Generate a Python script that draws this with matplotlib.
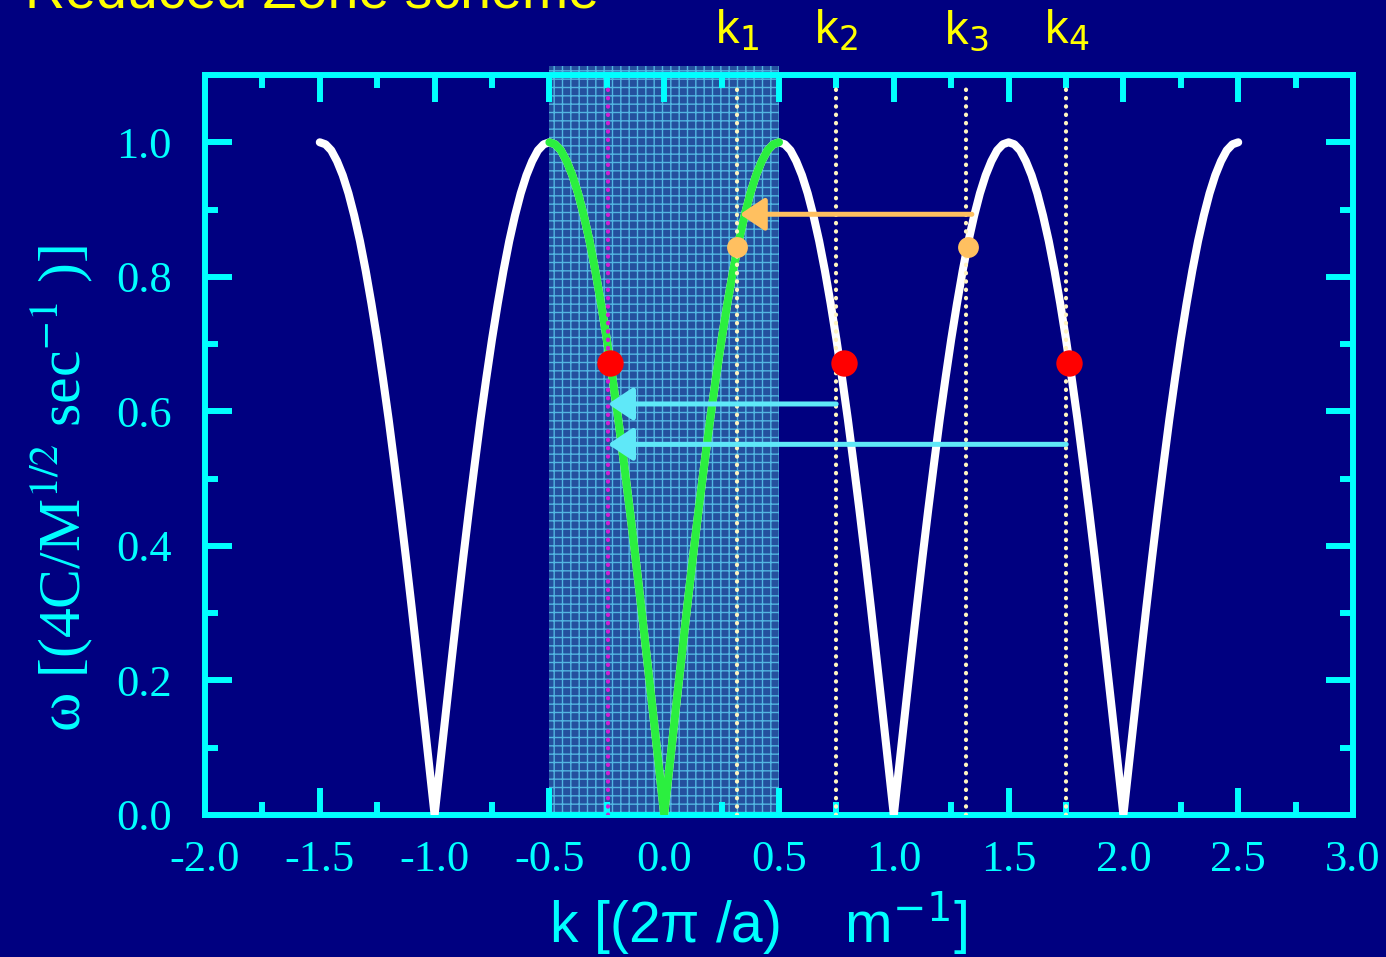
import matplotlib
matplotlib.use("Agg")
import matplotlib.pyplot as plt
import matplotlib.transforms as mtransforms
from matplotlib.patches import Rectangle
from matplotlib.ticker import MultipleLocator, FormatStrFormatter
import numpy as np

plt.rcParams['axes.unicode_minus'] = False

# Dispersion curve, every 0.025 in k (from -1.5 to 2.5)
k_curve = np.linspace(-1.5, 2.5, 161)
w_curve = [
    1.000, 0.997, 0.988, 0.972, 0.951, 0.924, 0.891, 0.853, 0.809, 0.760,
    0.707, 0.649, 0.588, 0.522, 0.454, 0.383, 0.309, 0.233, 0.156, 0.078,
    0.000, 0.078, 0.156, 0.233, 0.309, 0.383, 0.454, 0.522, 0.588, 0.649,
    0.707, 0.760, 0.809, 0.853, 0.891, 0.924, 0.951, 0.972, 0.988, 0.997,
    1.000, 0.997, 0.988, 0.972, 0.951, 0.924, 0.891, 0.853, 0.809, 0.760,
    0.707, 0.649, 0.588, 0.522, 0.454, 0.383, 0.309, 0.233, 0.156, 0.078,
    0.000, 0.078, 0.156, 0.233, 0.309, 0.383, 0.454, 0.522, 0.588, 0.649,
    0.707, 0.760, 0.809, 0.853, 0.891, 0.924, 0.951, 0.972, 0.988, 0.997,
    1.000, 0.997, 0.988, 0.972, 0.951, 0.924, 0.891, 0.853, 0.809, 0.760,
    0.707, 0.649, 0.588, 0.522, 0.454, 0.383, 0.309, 0.233, 0.156, 0.078,
    0.000, 0.078, 0.156, 0.233, 0.309, 0.383, 0.454, 0.522, 0.588, 0.649,
    0.707, 0.760, 0.809, 0.853, 0.891, 0.924, 0.951, 0.972, 0.988, 0.997,
    1.000, 0.997, 0.988, 0.972, 0.951, 0.924, 0.891, 0.853, 0.809, 0.760,
    0.707, 0.649, 0.588, 0.522, 0.454, 0.383, 0.309, 0.233, 0.156, 0.078,
    0.000, 0.078, 0.156, 0.233, 0.309, 0.383, 0.454, 0.522, 0.588, 0.649,
    0.707, 0.760, 0.809, 0.853, 0.891, 0.924, 0.951, 0.972, 0.988, 0.997,
    1.000]
w_curve = np.array(w_curve)

# first Brillouin zone
zone_lo, zone_hi = -0.5, 0.5

# marked wave vectors
k_lines = [0.318, 0.749, 1.315, 1.751]
k_names = ["k$_1$", "k$_2$", "k$_3$", "k$_4$"]
k_folded = -0.244

# points on the curve
red_k = [-0.235, 0.784, 1.764]
red_w = [0.672, 0.672, 0.672]
orange_k = [0.318, 1.324]
orange_w = [0.844, 0.844]

# arrows (from k, to k, omega)
cyan_arrows = [(0.749, -0.244, 0.611), (1.751, -0.244, 0.551)]
orange_arrow = (1.34, 0.33, 0.893)

navy = "#000080"
cyan = "#00ffff"

fig = plt.figure(figsize=(13.86, 9.57), dpi=100, facecolor=navy)
ax = fig.add_axes([0.1479, 0.1484, 0.8283, 0.7732])
ax.set_facecolor(navy)
ax.set_xlim(-2, 3)
ax.set_ylim(0, 1.1)

# shaded zone
ax.add_patch(Rectangle((zone_lo, 0), zone_hi - zone_lo, 1.114, facecolor="#24509e",
                       edgecolor="#52b6e2", hatch="++", lw=0, clip_on=False, zorder=1))

# curves
ax.plot(k_curve, w_curve, color="white", lw=5.8, solid_capstyle="round", zorder=3)
inside = (k_curve >= zone_lo - 1e-9) & (k_curve <= zone_hi + 1e-9)
ax.plot(k_curve[inside], w_curve[inside], color="#2bef3f", lw=5.8,
        solid_capstyle="round", zorder=4)

# dotted vertical lines
for kx in k_lines:
    ax.plot([kx, kx], [0, 1.09], color="#fff4c0", lw=3.0, ls=(0, (0.1, 1.9)),
            dash_capstyle="round", zorder=5)
ax.plot([k_folded, k_folded], [0, 1.09], color="#d21cd2", lw=3.0, ls=(0, (0.1, 1.9)),
        dash_capstyle="round", zorder=5)

# arrows
for k0, k1, w in cyan_arrows:
    ax.annotate("", xy=(k1, w), xytext=(k0, w),
                arrowprops=dict(arrowstyle="-|>,head_length=0.75,head_width=0.5",
                                color="#5fe8f8", lw=3.6, shrinkA=0, shrinkB=0,
                                mutation_scale=20), zorder=6)
ax.annotate("", xy=(orange_arrow[1], orange_arrow[2]), xytext=(orange_arrow[0], orange_arrow[2]),
            arrowprops=dict(arrowstyle="-|>,head_length=0.75,head_width=0.5",
                            color="#ffc060", lw=3.6, shrinkA=0, shrinkB=0,
                            mutation_scale=20), zorder=6)

# points
ax.plot(red_k, red_w, "o", color="#ff0000", ms=19, mec="none", zorder=7)
ax.plot(orange_k, orange_w, "o", color="#ffc060", ms=15, mec="none", zorder=7)

# axes style
for sp in ax.spines.values():
    sp.set_color(cyan)
    sp.set_linewidth(4.3)
    sp.set_zorder(2.5)
ax.xaxis.set_major_locator(MultipleLocator(0.5))
ax.xaxis.set_minor_locator(MultipleLocator(0.25))
ax.yaxis.set_major_locator(MultipleLocator(0.2))
ax.yaxis.set_minor_locator(MultipleLocator(0.1))
ax.xaxis.set_major_formatter(FormatStrFormatter("%.1f"))
ax.yaxis.set_major_formatter(FormatStrFormatter("%.1f"))
ax.tick_params(which="both", direction="in", top=True, right=True, color=cyan, width=4.3)
ax.tick_params(which="major", length=19.5)
ax.tick_params(which="minor", length=9.5)
ax.tick_params(axis="x", labelsize=32, labelcolor=cyan, pad=18)
ax.tick_params(axis="y", labelsize=32, labelcolor=cyan, pad=24)
for lab in ax.get_xticklabels() + ax.get_yticklabels():
    lab.set_family("Liberation Serif")

# k labels above the frame
trans = mtransforms.blended_transform_factory(ax.transData, fig.transFigure)
for kx, name in zip(k_lines, k_names):
    ax.text(kx, 0.955, name, transform=trans, ha="center", va="baseline", color="#ffff00",
            fontsize=34, family="Liberation Sans", math_fontfamily="dejavusans")

# titles and axis labels
fig.text(0.018, 1 - 8 / 957, "Reduced Zone scheme", color="#ffff00", fontsize=40,
         family="Liberation Sans", va="baseline", ha="left")
fig.text(0.547, 0.0146, "k [(2\u03c0 /a)    m$^{-1}$]", color=cyan, fontsize=41,
         family="Liberation Sans", math_fontfamily="dejavusans", ha="center", va="baseline")
fig.text(0.044, 0.49, "\u03c9 [(4C/M$^{1/2}$ sec$^{-1}$ )]", color=cyan, fontsize=43,
         family="Liberation Serif", math_fontfamily="stix", rotation=90,
         ha="center", va="center")

fig.savefig("out.png", dpi=100, facecolor=navy)
